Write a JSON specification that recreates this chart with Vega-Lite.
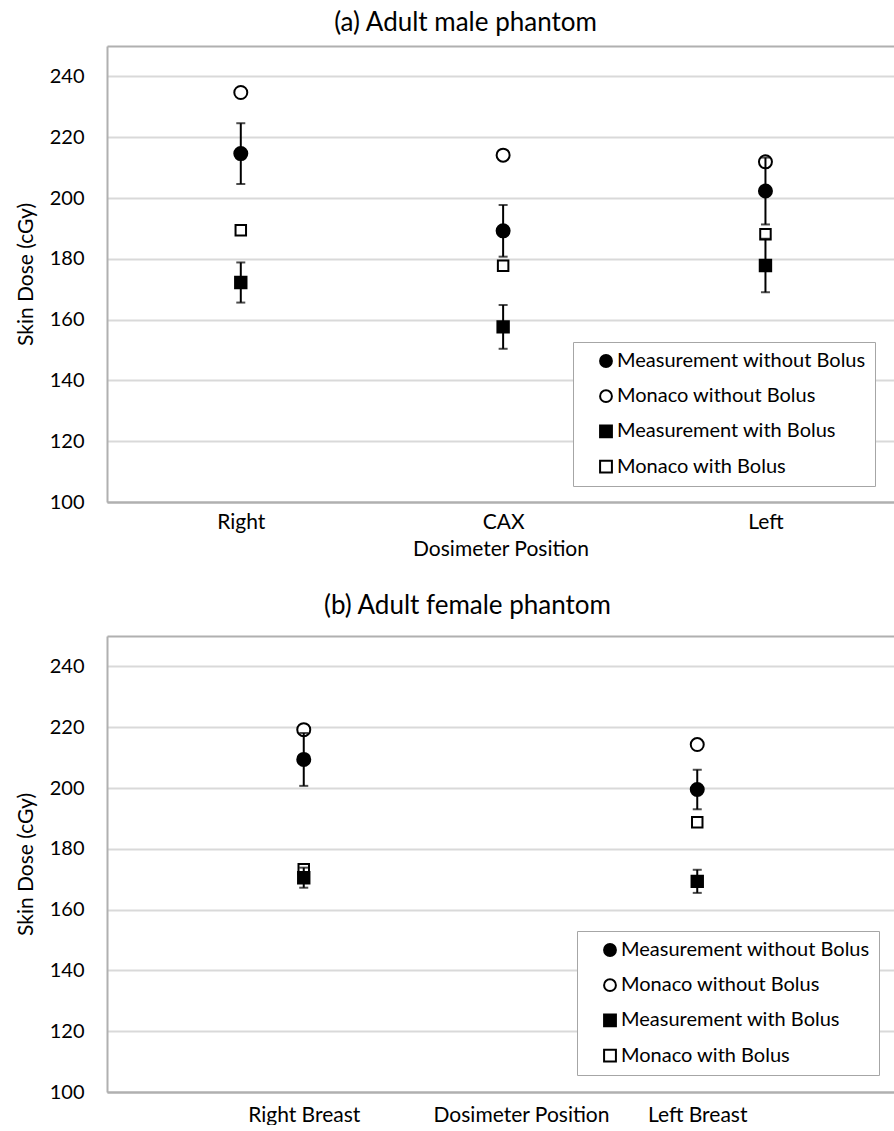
{
  "$schema": "https://vega.github.io/schema/vega-lite/v6.json",
  "background": "white",
  "padding": {"left": 15, "top": 10, "right": 0, "bottom": 0},
  "spacing": 34,
  "resolve": {"scale": {"shape": "independent", "fill": "independent", "stroke": "independent"}, "legend": {"shape": "independent", "fill": "independent", "stroke": "independent"}},
  "config": {
    "font": "Lato",
    "view": {"stroke": null},
    "axis": {
      "labelFont": "Lato", "titleFont": "Lato",
      "labelFontSize": 20, "titleFontSize": 21, "titleFontWeight": "normal",
      "labelColor": "#000000", "titleColor": "#000000",
      "ticks": false, "tickSize": 0,
      "domainColor": "#b0b0b0", "domainWidth": 2
    },
    "axisX": {"labelFontSize": 21},
    "title": {"font": "Lato", "fontSize": 26, "fontWeight": "normal", "color": "#000000"},
    "legend": {"title": null, "orient": "none", "padding": 9, "rowPadding": 15.2, "symbolOffset": 14, "labelOffset": 1, "labelFontSize": 20, "labelFont": "Lato", "labelColor": "#000000", "labelLimit": 400, "symbolSize": 140, "symbolStrokeWidth": 2, "strokeColor": "#a6a6a6", "fillColor": "white"}
  },
  "datasets": {
    "male": [
      {"position": "Right", "series": "Measurement without Bolus", "dose": 214.6, "err": 10},
      {"position": "Right", "series": "Monaco without Bolus", "dose": 234.7, "err": null},
      {"position": "Right", "series": "Measurement with Bolus", "dose": 172.2, "err": 6.6},
      {"position": "Right", "series": "Monaco with Bolus", "dose": 189.4, "err": null},
      {"position": "CAX", "series": "Measurement without Bolus", "dose": 189.2, "err": 8.5},
      {"position": "CAX", "series": "Monaco without Bolus", "dose": 214.1, "err": null},
      {"position": "CAX", "series": "Measurement with Bolus", "dose": 157.6, "err": 7.2},
      {"position": "CAX", "series": "Monaco with Bolus", "dose": 177.7, "err": null},
      {"position": "Left", "series": "Measurement without Bolus", "dose": 202.3, "err": 11},
      {"position": "Left", "series": "Monaco without Bolus", "dose": 211.9, "err": null},
      {"position": "Left", "series": "Measurement with Bolus", "dose": 177.8, "err": 8.8},
      {"position": "Left", "series": "Monaco with Bolus", "dose": 188.1, "err": null}
    ],
    "female": [
      {"position": "Right Breast", "series": "Measurement without Bolus", "dose": 209.4, "err": 8.7},
      {"position": "Right Breast", "series": "Monaco without Bolus", "dose": 219.2, "err": null},
      {"position": "Right Breast", "series": "Measurement with Bolus", "dose": 170.5, "err": 3.3},
      {"position": "Right Breast", "series": "Monaco with Bolus", "dose": 173.3, "err": null},
      {"position": "Left Breast", "series": "Measurement without Bolus", "dose": 199.5, "err": 6.5},
      {"position": "Left Breast", "series": "Monaco without Bolus", "dose": 214.3, "err": null},
      {"position": "Left Breast", "series": "Measurement with Bolus", "dose": 169.3, "err": 3.8},
      {"position": "Left Breast", "series": "Monaco with Bolus", "dose": 188.7, "err": null}
    ]
  },
  "vconcat": [
    {
      "width": 787, "height": 456,
      "title": {"text": "(a) Adult male phantom", "offset": 10, "dx": -35},
      "data": {"name": "male"},
      "encoding": {
        "x": {"field": "position", "type": "nominal", "sort": ["Right", "CAX", "Left"],
          "scale": {"type": "point", "padding": 0.5, "align": 0.51},
          "axis": {"title": "Dosimeter Position", "labelAngle": 0, "labelPadding": 9, "titlePadding": 6, "grid": false}},
        "y": {"field": "dose", "type": "quantitative",
          "scale": {"domain": [100, 250], "nice": false, "zero": false},
          "axis": {"title": "Skin Dose (cGy)", "values": [100, 120, 140, 160, 180, 200, 220, 240, 250],
            "labelExpr": "datum.value == 250 ? '' : datum.label",
            "grid": true, "gridWidth": 2,
            "gridColor": {"condition": {"test": "datum.value == 250 || datum.value == 100", "value": "#b0b0b0"}, "value": "#d9d9d9"},
            "labelPadding": 23, "titlePadding": 13}},
        "shape": {"field": "series", "type": "nominal",
          "scale": {"domain": ["Measurement without Bolus", "Monaco without Bolus", "Measurement with Bolus", "Monaco with Bolus"], "range": ["circle", "circle", "square", "square"]},
          "legend": {"legendX": 466, "legendY": 296}},
        "fill": {"field": "series", "type": "nominal",
          "scale": {"domain": ["Measurement without Bolus", "Monaco without Bolus", "Measurement with Bolus", "Monaco with Bolus"], "range": ["black", "white", "black", "white"]},
          "legend": {"legendX": 466, "legendY": 296}},
        "stroke": {"field": "series", "type": "nominal",
          "scale": {"domain": ["Measurement without Bolus", "Monaco without Bolus", "Measurement with Bolus", "Monaco with Bolus"], "range": ["black", "black", "black", "black"]},
          "legend": {"legendX": 466, "legendY": 296}}
      },
      "layer": [
        {
          "transform": [{"filter": {"field": "series", "equal": "Monaco without Bolus"}}],
          "mark": {"type": "point", "filled": false, "strokeWidth": 2, "opacity": 1, "strokeOpacity": 1, "fillOpacity": 1, "size": 169}
        },
        {
          "transform": [{"filter": {"field": "series", "equal": "Monaco with Bolus"}}],
          "mark": {"type": "point", "filled": false, "strokeWidth": 2, "opacity": 1, "strokeOpacity": 1, "fillOpacity": 1, "size": 110}
        },
        {
          "transform": [{"filter": {"field": "series", "oneOf": ["Measurement without Bolus", "Measurement with Bolus"]}}],
          "mark": {"type": "errorbar", "color": "black", "rule": {"strokeWidth": 2}, "ticks": {"size": 9, "thickness": 2}},
          "encoding": {"yError": {"field": "err"}, "shape": null, "fill": null, "stroke": null}
        },
        {
          "transform": [{"filter": {"field": "series", "equal": "Measurement without Bolus"}}],
          "mark": {"type": "point", "filled": false, "strokeWidth": 2, "opacity": 1, "strokeOpacity": 1, "fillOpacity": 1, "size": 169}
        },
        {
          "transform": [{"filter": {"field": "series", "equal": "Measurement with Bolus"}}],
          "mark": {"type": "point", "filled": false, "strokeWidth": 2, "opacity": 1, "strokeOpacity": 1, "fillOpacity": 1, "size": 130}
        }
      ]
    },
    {
      "width": 787, "height": 456,
      "title": {"text": "(b) Adult female phantom", "offset": 17, "dx": -33},
      "data": {"name": "female"},
      "encoding": {
        "x": {"field": "position", "type": "nominal", "sort": ["Right Breast", "Left Breast"],
          "scale": {"type": "point", "padding": 0.5},
          "axis": {"title": "Dosimeter Position", "labelAngle": 0, "labelPadding": 12, "grid": false,
            "titleX": 414, "titleY": 12, "titleBaseline": "top", "titleAlign": "center"}},
        "y": {"field": "dose", "type": "quantitative",
          "scale": {"domain": [100, 250], "nice": false, "zero": false},
          "axis": {"title": "Skin Dose (cGy)", "values": [100, 120, 140, 160, 180, 200, 220, 240, 250],
            "labelExpr": "datum.value == 250 ? '' : datum.label",
            "grid": true, "gridWidth": 2,
            "gridColor": {"condition": {"test": "datum.value == 250 || datum.value == 100", "value": "#b0b0b0"}, "value": "#d9d9d9"},
            "labelPadding": 23, "titlePadding": 13}},
        "shape": {"field": "series", "type": "nominal",
          "scale": {"domain": ["Measurement without Bolus", "Monaco without Bolus", "Measurement with Bolus", "Monaco with Bolus"], "range": ["circle", "circle", "square", "square"]},
          "legend": {"legendX": 470, "legendY": 295}},
        "fill": {"field": "series", "type": "nominal",
          "scale": {"domain": ["Measurement without Bolus", "Monaco without Bolus", "Measurement with Bolus", "Monaco with Bolus"], "range": ["black", "white", "black", "white"]},
          "legend": {"legendX": 470, "legendY": 295}},
        "stroke": {"field": "series", "type": "nominal",
          "scale": {"domain": ["Measurement without Bolus", "Monaco without Bolus", "Measurement with Bolus", "Monaco with Bolus"], "range": ["black", "black", "black", "black"]},
          "legend": {"legendX": 470, "legendY": 295}}
      },
      "layer": [
        {
          "transform": [{"filter": {"field": "series", "equal": "Monaco without Bolus"}}],
          "mark": {"type": "point", "filled": false, "strokeWidth": 2, "opacity": 1, "strokeOpacity": 1, "fillOpacity": 1, "size": 169}
        },
        {
          "transform": [{"filter": {"field": "series", "equal": "Monaco with Bolus"}}],
          "mark": {"type": "point", "filled": false, "strokeWidth": 2, "opacity": 1, "strokeOpacity": 1, "fillOpacity": 1, "size": 110}
        },
        {
          "transform": [{"filter": {"field": "series", "oneOf": ["Measurement without Bolus", "Measurement with Bolus"]}}],
          "mark": {"type": "errorbar", "color": "black", "rule": {"strokeWidth": 2}, "ticks": {"size": 9, "thickness": 2}},
          "encoding": {"yError": {"field": "err"}, "shape": null, "fill": null, "stroke": null}
        },
        {
          "transform": [{"filter": {"field": "series", "equal": "Measurement without Bolus"}}],
          "mark": {"type": "point", "filled": false, "strokeWidth": 2, "opacity": 1, "strokeOpacity": 1, "fillOpacity": 1, "size": 169}
        },
        {
          "transform": [{"filter": {"field": "series", "equal": "Measurement with Bolus"}}],
          "mark": {"type": "point", "filled": false, "strokeWidth": 2, "opacity": 1, "strokeOpacity": 1, "fillOpacity": 1, "size": 130}
        }
      ]
    }
  ]
}
